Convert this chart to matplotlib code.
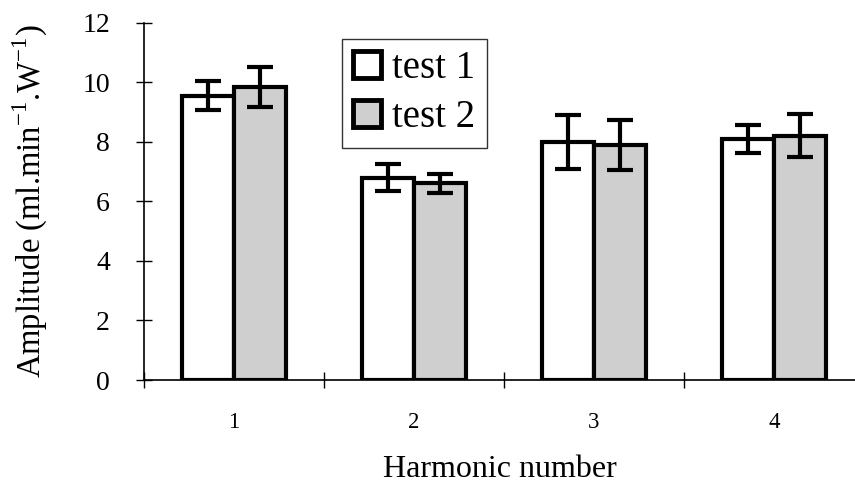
import numpy as np
import matplotlib.pyplot as plt
from matplotlib.patches import Patch

plt.rcParams['font.family'] = ['Liberation Serif', 'DejaVu Serif']
plt.rcParams['mathtext.fontset'] = 'custom'
plt.rcParams['mathtext.rm'] = 'Liberation Serif'

harmonics = ['1', '2', '3', '4']
test1 = [9.55, 6.80, 8.00, 8.10]
test1_err = [0.48, 0.45, 0.90, 0.48]
test2 = [9.83, 6.60, 7.90, 8.20]
test2_err = [0.67, 0.33, 0.84, 0.72]

fig = plt.figure(figsize=(8.55, 4.92), dpi=100)
ax = fig.add_axes([144 / 855, 112 / 492, 711 / 855, 357.3 / 492])

x = np.arange(len(harmonics))
w = 0.29
bar_kw = dict(width=w, edgecolor='black', linewidth=3, zorder=2)
ax.bar(x - w / 2, test1, color='white', **bar_kw)
ax.bar(x + w / 2, test2, color='#cfcfcf', **bar_kw)

err_kw = dict(fmt='none', ecolor='black', elinewidth=3, capsize=9.5, capthick=3, zorder=3)
ax.errorbar(x - w / 2, test1, yerr=test1_err, **err_kw)
ax.errorbar(x + w / 2, test2, yerr=test2_err, **err_kw)

ax.set_xlim(-0.5, 3.45)
ax.set_ylim(0, 12)
ax.set_yticks(np.arange(0, 13, 2))
ax.set_xticks(x, harmonics)
ax.set_xticks(np.arange(-0.5, 3.5, 1), minor=True)
ax.tick_params(axis='x', which='major', length=0, pad=23, labelsize=16.5)
ax.tick_params(axis='x', which='minor', direction='inout', length=11, width=1)
ax.tick_params(axis='y', direction='inout', length=11, width=1, labelsize=20, pad=19)

for side in ['top', 'right']:
    ax.spines[side].set_visible(False)
for side in ['left', 'bottom']:
    ax.spines[side].set_linewidth(1.2)

ax.set_xlabel('Harmonic number', fontsize=23)
ax.xaxis.set_label_coords(0.5, -75 / 357.3)
ax.set_ylabel('Amplitude (ml.min$^{\\mathregular{-1}}$.W$^{\\mathregular{-1}}$)', fontsize=23.5)
ax.yaxis.set_label_coords(-94 / 711, 0.5)

handles = [Patch(facecolor='white', edgecolor='black', linewidth=3.5),
           Patch(facecolor='#cfcfcf', edgecolor='black', linewidth=3.5)]
leg = ax.legend(handles, ['test 1', 'test 2'], loc='upper left',
                bbox_to_anchor=(0.278, 0.955), fontsize=28, frameon=True,
                fancybox=False, edgecolor='black', handlelength=0.7,
                handleheight=0.7, handletextpad=0.3, borderpad=0.3,
                labelspacing=0.3, borderaxespad=0)
leg.get_frame().set_linewidth(1)

fig.savefig('out.png', dpi=100)
